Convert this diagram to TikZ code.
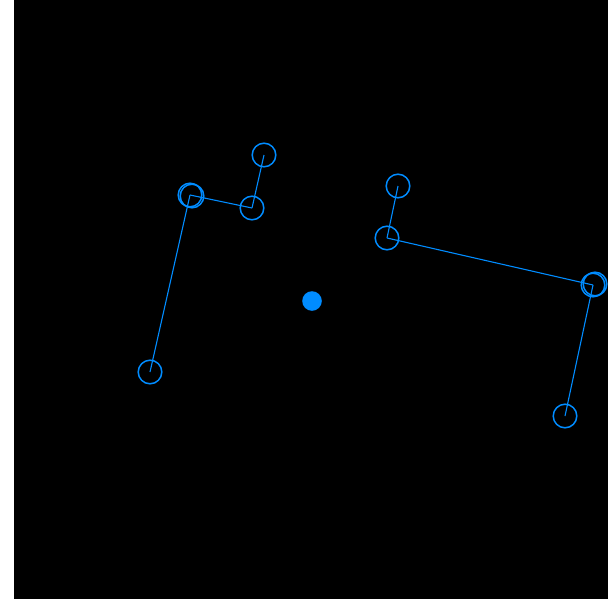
\documentclass[tikz,border=0pt]{standalone}
\usepackage{xcolor}
\usepackage{tikz}
\definecolor{jointblue}{RGB}{0,140,255}

\begin{document}
\begin{tikzpicture}[
    x=0.5pt, y=-0.5pt,
    joint/.style={draw=jointblue, circle, minimum size=11.8pt, inner sep=0pt, line width=0.75pt},
    hub/.style={fill=jointblue, circle, minimum size=9.8pt, inner sep=0pt},
    link/.style={draw=jointblue, line width=0.55pt}
]
% Background
\useasboundingbox (0,0) rectangle (608,599);
\fill[white] (0,0) rectangle (608,599);
\fill[black] (14,0) rectangle (608,599);

% Nodes
\node[hub] (hub) at (312,301) {};
\node[joint] (lshoulder) at (190,195) {};
\node[joint] (lshoulder2) at (192,196) {};
\node[joint] (lelbow) at (252,208) {};
\node[joint] (lhand) at (264,155) {};
\node[joint] (lfoot) at (150,372) {};
\node[joint] (rhand) at (398,186) {};
\node[joint] (relbow) at (387,238) {};
\node[joint] (rshoulder) at (593,285) {};
\node[joint] (rshoulder2) at (595,284) {};
\node[joint] (rfoot) at (565,416) {};

% Edges
\draw[link] (lshoulder.center) -- (lelbow.center);
\draw[link] (lelbow.center) -- (lhand.center);
\draw[link] (lshoulder.center) -- (lfoot.center);
\draw[link] (rhand.center) -- (relbow.center);
\draw[link] (relbow.center) -- (rshoulder.center);
\draw[link] (rshoulder.center) -- (rfoot.center);
\end{tikzpicture}
\end{document}
